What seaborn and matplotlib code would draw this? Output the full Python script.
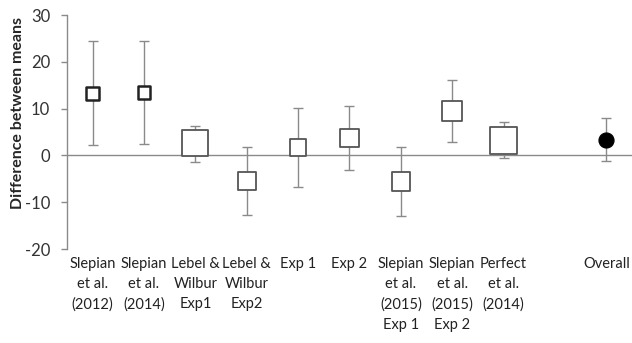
import numpy as np
import pandas as pd
import matplotlib
matplotlib.use('Agg')
import matplotlib.pyplot as plt
import seaborn as sns

sns.set_style('white')
plt.rcParams['font.family'] = ['Lato', 'DejaVu Sans']
plt.rcParams['axes.unicode_minus'] = False

# ---- datos ----
labels = ['Slepian\net al.\n(2012)', 'Slepian\net al.\n(2014)', 'Lebel &\nWilbur\nExp1',
          'Lebel &\nWilbur\nExp2', 'Exp 1', 'Exp 2', 'Slepian\net al.\n(2015)\nExp 1',
          'Slepian\net al.\n(2015)\nExp 2', 'Perfect\net al.\n(2014)', '', 'Overall']
means = [13.2, 13.4, 2.6, -5.5, 1.7, 3.7, -5.6, 9.5, 3.2, np.nan, 3.4]
lower = [2.2, 2.5, -1.3, -12.8, -6.7, -3.1, -12.9, 2.9, -0.6, np.nan, -1.1]
upper = [24.4, 24.4, 6.3, 1.9, 10.1, 10.5, 1.7, 16.2, 7.1, np.nan, 7.9]
# peso relativo de cada estudio (tamano del marcador)
weight = [12.7, 12.7, 26, 18.5, 16.5, 18.3, 18.3, 20, 26.7, np.nan, 15]
kind = ['study'] * 9 + ['none', 'overall']

df = pd.DataFrame({'pos': np.arange(len(labels)), 'mean': means, 'lo': lower,
                   'hi': upper, 'w': weight, 'kind': kind})

fig = plt.figure(figsize=(6.32, 3.43), dpi=100)
ax = fig.add_axes([0.106, 0.274, 0.894, 0.682])

ax.axhline(0, color='#8a8a8a', lw=1, zorder=1)

ok = df.dropna()
ax.errorbar(ok['pos'], ok['mean'], yerr=[ok['mean'] - ok['lo'], ok['hi'] - ok['mean']],
            fmt='none', ecolor='#8a8a8a', elinewidth=1, capsize=3.5, capthick=1, zorder=2)

studies = ok[ok['kind'] == 'study']
thick = studies['pos'] < 2
sns.scatterplot(data=studies[thick], x='pos', y='mean', marker='s', color='white',
                edgecolor='#222222', linewidth=1.8, s=(studies[thick]['w'] * 0.72) ** 2,
                ax=ax, zorder=3, legend=False)
sns.scatterplot(data=studies[~thick], x='pos', y='mean', marker='s', color='white',
                edgecolor='#555555', linewidth=1.3, s=(studies[~thick]['w'] * 0.72) ** 2,
                ax=ax, zorder=3, legend=False)
overall = ok[ok['kind'] == 'overall']
sns.scatterplot(data=overall, x='pos', y='mean', marker='o', color='black',
                edgecolor='black', s=(overall['w'] * 0.72) ** 2, ax=ax, zorder=3, legend=False)

ax.set_xlim(-0.5, len(labels) - 0.5)
ax.set_ylim(-20, 30)
ax.set_yticks([-20, -10, 0, 10, 20, 30])
ax.set_xticks(df['pos'])
ax.set_xticklabels(labels, fontsize=10.5, linespacing=1.55, va='top', ha='center')
ax.tick_params(axis='x', length=0, pad=6, colors='#222222')
ax.tick_params(axis='y', length=4, width=1, color='#8a8a8a', direction='out',
               labelsize=12, labelcolor='#333333', pad=8, left=True)

for s in ['top', 'right', 'bottom']:
    ax.spines[s].set_visible(False)
ax.spines['left'].set_color('#8a8a8a')
ax.spines['left'].set_linewidth(1)

ax.set_xlabel('')
ax.set_ylabel('Difference between means', fontsize=11.5, fontweight='bold')
ax.yaxis.set_label_coords(-0.075, 0.58)

plt.savefig('out.png', dpi=100)
